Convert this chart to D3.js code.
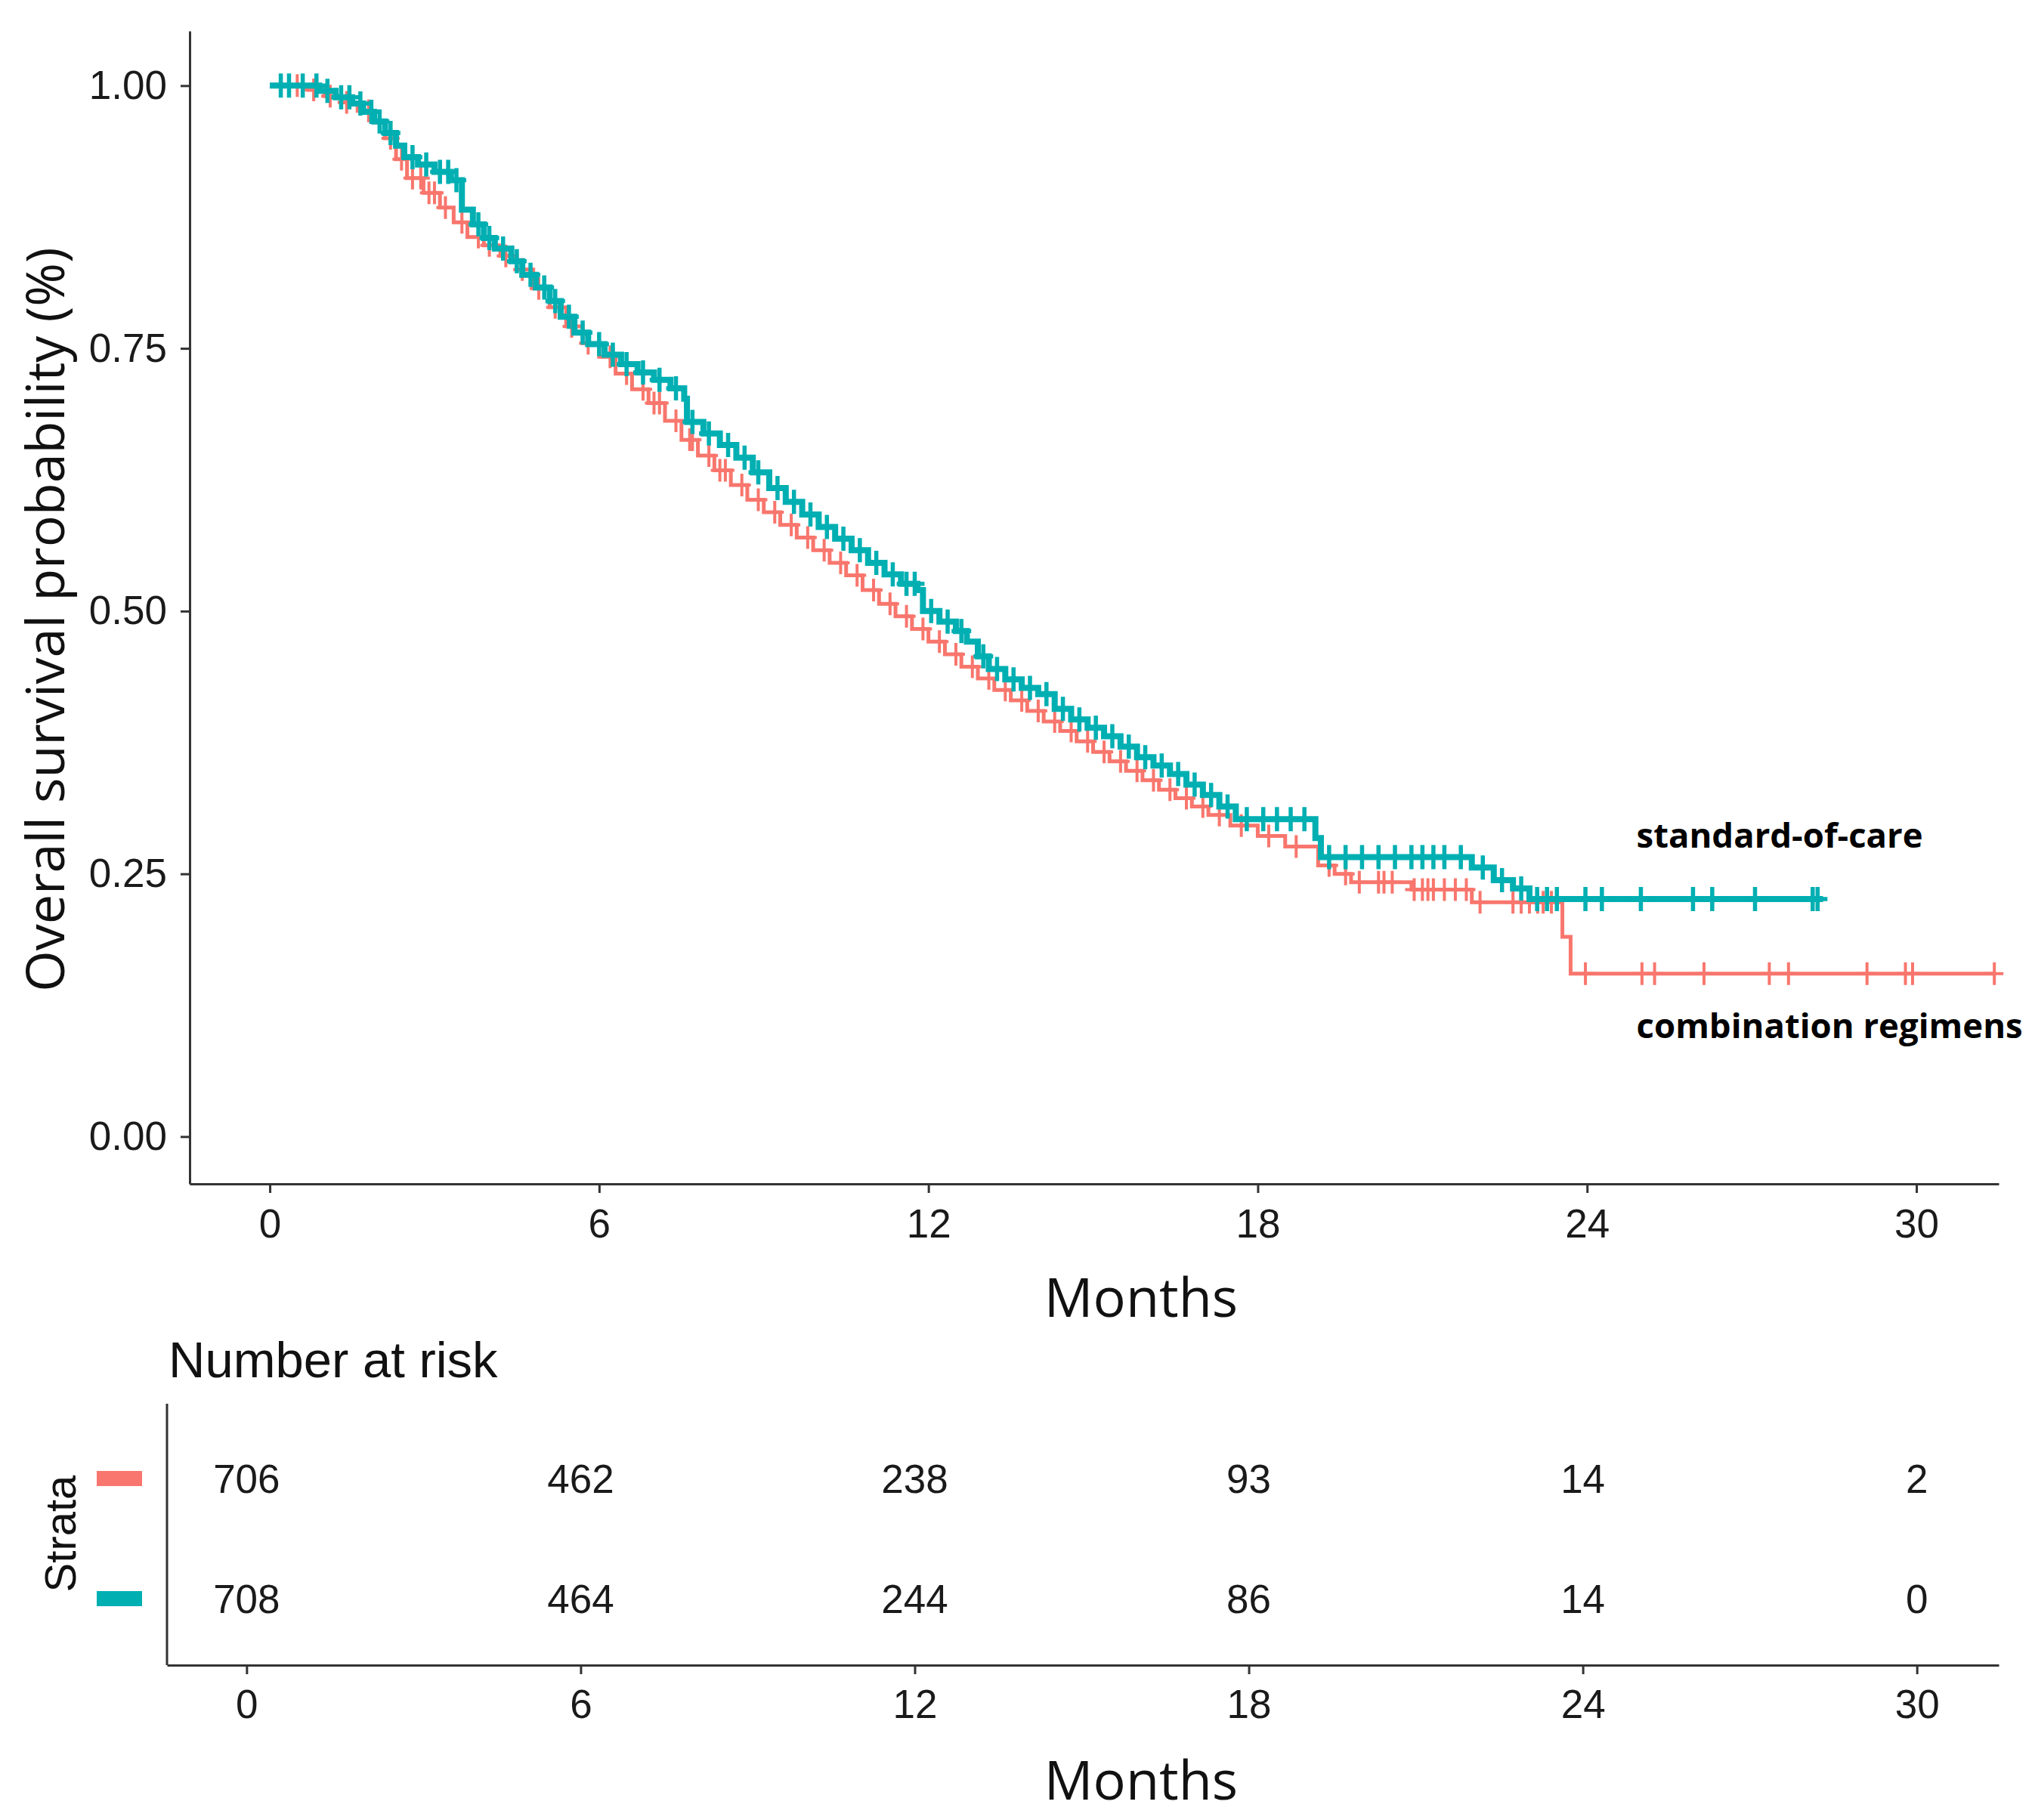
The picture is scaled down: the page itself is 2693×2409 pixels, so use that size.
<!DOCTYPE html>
<html>
<head>
<meta charset="utf-8">
<script src="https://cdn.jsdelivr.net/npm/d3@7"></script>
<style>
  body { margin: 0; background: #fff; }
</style>
</head>
<body>
<svg id="km" width="2693" height="2409"></svg>
<script>

// month ticks shared by the curve panel and the risk table
let months = [0, 6, 12, 18, 24, 30];
let yTicks = [0, 0.25, 0.5, 0.75, 1];

// red curve (combination regimens): event times and survival after each step
let comboTimes = [0, 0.7, 1.0, 1.3, 1.6, 1.9, 2.1, 2.3, 2.5, 2.8, 3.1, 3.35, 3.6, 3.9, 4.2, 4.5, 4.8, 5.1, 5.4, 5.7,
    6.0, 6.3, 6.6, 6.9, 7.2, 7.5, 7.8, 8.1, 8.4, 8.7, 9.0, 9.3, 9.6, 9.9, 10.2, 10.5, 10.8, 11.1, 11.4, 11.7,
    12.0, 12.3, 12.6, 12.9, 13.2, 13.5, 13.8, 14.1, 14.4, 14.7, 15.0, 15.3, 15.6, 15.9, 16.2, 16.5, 16.8, 17.1,
    17.5, 18.0, 18.5, 19.1, 19.4, 19.7, 20.8, 21.9, 23.55, 23.7];
let comboSurv = [1, 0.996, 0.990, 0.984, 0.976, 0.965, 0.950, 0.930, 0.912, 0.898, 0.884, 0.870, 0.856, 0.848, 0.838, 0.825, 0.807, 0.789, 0.771, 0.755,
    0.742, 0.726, 0.711, 0.698, 0.681, 0.663, 0.648, 0.634, 0.620, 0.606, 0.594, 0.582, 0.570, 0.558, 0.546, 0.534, 0.520, 0.507, 0.495, 0.483,
    0.471, 0.459, 0.447, 0.436, 0.425, 0.415, 0.405, 0.395, 0.386, 0.376, 0.366, 0.357, 0.348, 0.339, 0.330, 0.322, 0.314, 0.306,
    0.296, 0.286, 0.276, 0.258, 0.250, 0.242, 0.235, 0.223, 0.190, 0.155];
let comboCensor = [0.5, 0.8, 1.1, 1.4, 1.8, 2.2, 2.4, 2.6, 2.75, 2.9, 3.0, 3.2, 3.5, 3.8, 4.0, 4.3, 4.6, 4.9, 5.2, 5.5, 5.8,
    6.2, 6.5, 6.8, 7.0, 7.1, 7.4, 7.65, 7.7, 8.0, 8.2, 8.3, 8.6, 8.9, 9.2, 9.5, 9.8, 10.1, 10.4, 10.7, 11.0, 11.3, 11.6,
    11.9, 12.2, 12.5, 12.8, 13.1, 13.4, 13.7, 14.0, 14.3, 14.6, 14.9, 15.2, 15.5, 15.8, 16.1, 16.4, 16.7, 17.0,
    17.3, 17.7, 18.2, 18.7, 19.3, 19.6, 19.85, 20.2, 20.3, 20.45, 20.85, 21.0, 21.1, 21.2, 21.4, 21.6, 21.8,
    22.05, 22.65, 22.8, 22.95, 23.1, 23.2, 23.35, 23.97, 25.0, 25.23, 26.13, 27.32, 27.67, 29.1, 29.8, 29.93, 31.42];
let comboEnd = 31.45;

// teal curve (standard-of-care)
let socTimes = [0, 0.9, 1.2, 1.5, 1.7, 1.9, 2.1, 2.3, 2.45, 2.7, 3.0, 3.3, 3.5, 3.7, 3.9, 4.1, 4.4, 4.6, 4.85, 5.1,
    5.3, 5.55, 5.8, 6.1, 6.4, 6.7, 7.0, 7.3, 7.55, 7.6, 7.9, 8.2, 8.5, 8.8, 9.1, 9.4, 9.7, 10.0, 10.3, 10.6,
    10.9, 11.2, 11.5, 11.8, 11.9, 12.2, 12.5, 12.7, 12.9, 13.1, 13.4, 13.7, 14.0, 14.3, 14.6, 14.9, 15.2, 15.5,
    15.8, 16.1, 16.4, 16.7, 17.0, 17.3, 17.6, 19.05, 19.15, 21.9, 22.3, 22.65, 22.95];
let socSurv = [1, 0.995, 0.989, 0.983, 0.975, 0.966, 0.955, 0.943, 0.932, 0.925, 0.918, 0.910, 0.882, 0.868, 0.855, 0.845, 0.833, 0.820, 0.808, 0.795,
    0.780, 0.765, 0.754, 0.744, 0.735, 0.727, 0.720, 0.712, 0.702, 0.680, 0.669, 0.658, 0.646, 0.632, 0.617, 0.604, 0.592, 0.580, 0.569, 0.558,
    0.546, 0.535, 0.526, 0.520, 0.500, 0.490, 0.481, 0.471, 0.457, 0.445, 0.435, 0.427, 0.421, 0.407, 0.397, 0.389, 0.381, 0.371,
    0.361, 0.353, 0.345, 0.335, 0.325, 0.314, 0.302, 0.284, 0.266, 0.256, 0.244, 0.236, 0.226];
let socCensor = [0.2, 0.35, 0.6, 0.85, 1.05, 1.3, 1.45, 1.65, 1.85, 2.0, 2.2, 2.6, 2.85, 3.1, 3.25, 3.4, 3.8, 4.0, 4.25, 4.5,
    4.75, 5.0, 5.2, 5.45, 5.7, 6.0, 6.25, 6.5, 6.8, 7.1, 7.4, 7.7, 8.0, 8.35, 8.65, 8.9, 9.25, 9.55, 9.85, 10.15,
    10.45, 10.75, 11.05, 11.35, 11.6, 11.75, 12.05, 12.35, 12.6, 13.0, 13.25, 13.55, 13.85, 14.15, 14.45, 14.75,
    15.05, 15.35, 15.65, 15.95, 16.25, 16.55, 16.85, 17.15, 17.45, 17.8, 18.1, 18.35, 18.6, 18.85, 19.3, 19.6,
    19.9, 20.2, 20.5, 20.8, 21.0, 21.2, 21.4, 21.7, 22.1, 22.45, 22.8, 23.09, 23.27, 23.45, 23.97, 24.27, 24.98,
    25.93, 26.28, 27.06, 28.11, 28.2];
let socEnd = 28.3;

// number at risk, one value per month tick
let riskCombo = [706, 462, 238, 93, 14, 2];
let riskSoc = [708, 464, 244, 86, 14, 0];

// curve labels (text, month, survival at baseline)
let labelText = ["standard-of-care", "combination regimens"];
let labelMonth = [24.9, 24.9];
let labelSurv = [0.275, 0.094];

let red = "#F8766D", teal = "#00AFB2";
let axisColor = "#333333";
let numFont = "'Liberation Sans', Arial, sans-serif";
let titleFont = "'Open Sans', sans-serif";

let svg = d3.select("#km");
svg.append("rect").attr("width", 2693).attr("height", 2409).attr("fill", "#fff");

// ---------- survival panel ----------
let x = d3.scaleLinear().domain([-1.46, 31.5]).range([251, 2645]);
let y = d3.scaleLinear().domain([-0.045, 1.052]).range([1567, 41]);

function survAt(times, surv, t){
    let k = 0;
    for (let i = 0; i < times.length; i++){
        if (times[i] <= t) k = i;
    };
    return surv[k];
};

function drawCurve(times, surv, censor, end, color, width, markW, markH, markStroke){
    let pts = times.map((t, i) => [t, surv[i]]);
    pts.push([end, surv[surv.length - 1]]);

    let line = d3.line()
        .x(d => x(d[0]))
        .y(d => y(d[1]))
        .curve(d3.curveStepAfter);

    svg.append("path")
        .datum(pts)
        .attr("fill", "none")
        .attr("stroke", color)
        .attr("stroke-width", width)
        .attr("d", line);

    // censoring marks "+"
    svg.append("g").selectAll("path")
        .data(censor)
        .enter().append("path")
        .attr("d", function(t){
            let cx = x(t), cy = y(survAt(times, surv, t));
            return "M" + (cx - markW) + "," + cy + "H" + (cx + markW) + "M" + cx + "," + (cy - markH) + "V" + (cy + markH);
        })
        .attr("stroke", color)
        .attr("stroke-width", markStroke)
        .attr("fill", "none");
};

drawCurve(comboTimes, comboSurv, comboCensor, comboEnd, red, 5, 12, 15, 4);
drawCurve(socTimes, socSurv, socCensor, socEnd, teal, 8, 13, 16, 5.5);

function styleAxis(g){
    g.select(".domain").attr("stroke", axisColor).attr("stroke-width", 3);
    g.selectAll(".tick line").attr("stroke", axisColor).attr("stroke-width", 3);
    g.selectAll(".tick text").attr("fill", "#1a1a1a");
    g.attr("font-family", numFont).attr("font-size", 53);
};

let xAxis = svg.append("g")
    .attr("transform", "translate(0," + 1567 + ")")
    .call(d3.axisBottom(x).tickValues(months).tickSize(12).tickPadding(21).tickSizeOuter(0));
styleAxis(xAxis);

let yAxis = svg.append("g")
    .attr("transform", "translate(" + 251 + ",0)")
    .call(d3.axisLeft(y).tickValues(yTicks).tickFormat(d3.format(".2f")).tickSize(12).tickPadding(18).tickSizeOuter(0));
styleAxis(yAxis);

// y title
svg.append("text")
    .attr("transform", "translate(85,820) rotate(-90)")
    .attr("text-anchor", "middle")
    .attr("font-family", titleFont)
    .attr("font-size", 70)
    .attr("fill", "#111")
    .text("Overall survival probability (%)");

svg.append("text")
    .attr("x", 1510).attr("y", 1743)
    .attr("text-anchor", "middle")
    .attr("font-family", titleFont)
    .attr("font-size", 72)
    .attr("fill", "#111")
    .text("Months");

// curve labels
svg.append("g").selectAll("text")
    .data(labelText)
    .enter().append("text")
    .attr("x", (d, i) => x(labelMonth[i]))
    .attr("y", (d, i) => y(labelSurv[i]))
    .attr("font-family", titleFont)
    .attr("font-weight", "bold")
    .attr("font-size", 45.5)
    .attr("fill", "#000")
    .text(d => d);

// ---------- number at risk table ----------
let xT = d3.scaleLinear().domain([-1.43, 31.47]).range([221, 2645]);
let rows = ["combo", "soc"];
let yT = d3.scalePoint().domain(rows).range([1957, 2116]);
let rowValues = {combo: riskCombo, soc: riskSoc};
let rowColor = {combo: red, soc: teal};

svg.append("text")
    .attr("x", 223).attr("y", 1823)
    .attr("font-family", numFont)
    .attr("font-size", 67)
    .attr("fill", "#111")
    .text("Number at risk");

svg.append("line")
    .attr("x1", 221).attr("x2", 221)
    .attr("y1", 1858).attr("y2", 2204)
    .attr("stroke", axisColor).attr("stroke-width", 3);

let xAxisT = svg.append("g")
    .attr("transform", "translate(0," + 2204 + ")")
    .call(d3.axisBottom(xT).tickValues(months).tickSize(12).tickPadding(20).tickSizeOuter(0));
styleAxis(xAxisT);

for (let r = 0; r < rows.length; r++){
    let vals = rowValues[rows[r]];
    svg.append("g").selectAll("text")
        .data(vals)
        .enter().append("text")
        .attr("x", (d, i) => xT(months[i]))
        .attr("y", yT(rows[r]))
        .attr("dy", "0.36em")
        .attr("text-anchor", "middle")
        .attr("font-family", numFont)
        .attr("font-size", 53)
        .attr("fill", "#1a1a1a")
        .text(d => d);

    // strata key
    svg.append("rect")
        .attr("x", 128).attr("y", yT(rows[r]) - 10)
        .attr("width", 60).attr("height", 20)
        .attr("fill", rowColor[rows[r]]);
};

svg.append("text")
    .attr("transform", "translate(100,2030) rotate(-90)")
    .attr("text-anchor", "middle")
    .attr("font-family", numFont)
    .attr("font-size", 58)
    .attr("fill", "#111")
    .text("Strata");

svg.append("text")
    .attr("x", 1510).attr("y", 2382)
    .attr("text-anchor", "middle")
    .attr("font-family", titleFont)
    .attr("font-size", 72)
    .attr("fill", "#111")
    .text("Months");

</script>
</body>
</html>
